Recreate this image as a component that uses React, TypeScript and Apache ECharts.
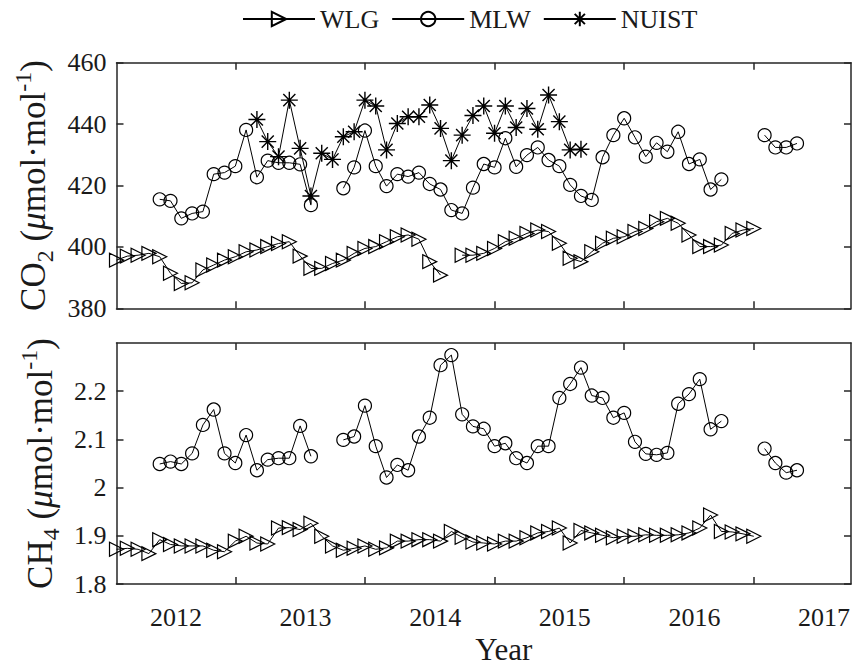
import React, { useEffect, useRef } from "react";
import * as echarts from "echarts";

// Month index 0 = Jan 2012 (x axis is months)
const X_MIN = 0;
const X_MAX = 68;
const TICK_MONTHS = [11, 23, 35, 47, 59];
const LABEL_MONTHS = [5.5, 17.5, 29.5, 41.5, 53.5, 65.5];
const YEAR_LABELS = ["2012", "2013", "2014", "2015", "2016", "2017"];

const CO2_TICKS = [380, 400, 420, 440, 460];
const CH4_TICKS = [1.8, 1.9, 2.0, 2.1, 2.2];

const N = null;

// CO2 (µmol/mol), monthly, index = month since Jan 2012
const WLG_CO2 = [
  395.7, 397.0, 397.3, 397.9, 396.8, 391.4, 388.1, 388.3, 392.5, 394.1, 395.7, 396.8,
  398.4, 399.0, 400.1, 401.1, 401.7, 397.0, 393.0, 393.0, 394.6, 395.7, 397.9, 399.5,
  400.1, 401.7, 403.3, 403.9, 402.5, 395.2, 390.8, N, 397.3, 397.3, 397.9, 399.5,
  401.7, 402.8, 404.4, 405.5, 405.0, 401.2, 396.3, 395.2, 398.4, 401.2, 402.8, 403.3,
  405.0, 406.0, 408.2, 409.3, 407.7, 403.9, 400.1, 400.1, 400.6, 404.4, 405.5, 406.0,
];
const MLW_CO2 = [
  N, N, N, N, 415.5, 415.0, 409.3, 410.9, 411.5, 423.7, 424.2, 426.3,
  438.1, 422.7, 428.1, 427.4, 427.4, 426.9, 413.6, N, N, 419.1, 425.9, 437.9,
  426.3, 419.8, 423.7, 422.9, 424.2, 420.5, 418.7, 412.0, 410.9, 419.3, 427.0, 425.9,
  435.4, 426.1, 429.9, 432.4, 428.3, 426.3, 420.2, 416.6, 415.3, 429.2, 436.4, 441.9,
  435.7, 429.4, 433.9, 431.0, 437.5, 427.0, 428.5, 418.7, 422.0, N, N, N,
  436.4, 432.4, 432.4, 433.7,
];
const NUIST_CO2 = [
  N, N, N, N, N, N, N, N, N, N, N, N,
  N, 441.5, 434.3, 429.4, 447.8, 432.1, 416.6, 430.5, 428.5, 435.9, 437.5, 447.8,
  445.9, 431.6, 440.2, 442.4, 442.4, 446.2, 438.6, 428.1, 436.4, 442.8, 445.9, 437.0,
  445.9, 438.9, 445.1, 438.3, 449.5, 440.8, 431.6, 431.8,
];

// CH4 (µmol/mol)
const WLG_CH4 = [
  1.872, 1.874, 1.872, 1.863, 1.892, 1.882, 1.879, 1.879, 1.879, 1.870, 1.867, 1.889,
  1.899, 1.885, 1.883, 1.916, 1.917, 1.913, 1.926, 1.899, 1.879, 1.870, 1.874, 1.879,
  1.872, 1.875, 1.889, 1.889, 1.892, 1.892, 1.889, 1.909, 1.897, 1.887, 1.885, 1.883,
  1.889, 1.889, 1.896, 1.906, 1.909, 1.916, 1.885, 1.911, 1.906, 1.901, 1.896, 1.899,
  1.899, 1.902, 1.901, 1.901, 1.902, 1.906, 1.916, 1.943, 1.909, 1.908, 1.904, 1.899,
];
const MLW_CH4 = [
  N, N, N, N, 2.049, 2.054, 2.049, 2.071, 2.130, 2.162, 2.071, 2.051,
  2.109, 2.036, 2.058, 2.061, 2.061, 2.128, 2.065, N, N, 2.099, 2.106, 2.170,
  2.086, 2.021, 2.047, 2.036, 2.106, 2.145, 2.254, 2.275, 2.152, 2.127, 2.122, 2.086,
  2.092, 2.061, 2.051, 2.086, 2.086, 2.186, 2.215, 2.249, 2.191, 2.186, 2.145, 2.155,
  2.095, 2.070, 2.068, 2.072, 2.174, 2.194, 2.225, 2.121, 2.138, N, N, N,
  2.081, 2.051, 2.031, 2.036,
];

const FONT = "Liberation Serif";
const AXIS_COLOR = "#262626";
const TEXT_COLOR = "#1a1a1a";
const STAR = "path://M0,-10L0,10M-10,0L10,0M-7.1,-7.1L7.1,7.1M-7.1,7.1L7.1,-7.1";

const pairs = (arr: (number | null)[]) => arr.map((v, i) => [i, v]);

const NAME_FS = 35;
const SUB_FS = 24;
const nameRich = {
  n: { fontSize: NAME_FS, fontFamily: FONT, color: TEXT_COLOR, lineHeight: 46, verticalAlign: "middle" },
  mu: { fontSize: NAME_FS, fontFamily: FONT, fontStyle: "italic", color: TEXT_COLOR, lineHeight: 46, verticalAlign: "middle" },
  sub: { fontSize: SUB_FS, fontFamily: FONT, color: TEXT_COLOR, lineHeight: 24, verticalAlign: "bottom" },
  sup: { fontSize: SUB_FS, fontFamily: FONT, color: TEXT_COLOR, lineHeight: 24, verticalAlign: "top" },
};
const tickRich = { t: { fontSize: 26, fontFamily: FONT, color: TEXT_COLOR } };

export default function App() {
  const ref = useRef<HTMLDivElement>(null);
  useEffect(() => {
    if (!ref.current) return;
    const chart = echarts.init(ref.current, null, { renderer: "svg" });

    const lineStyle = { color: AXIS_COLOR, width: 1.5 };
    const xAxis = (gridIndex: number, position: string, labels: boolean) => ({
      type: "value",
      gridIndex,
      position,
      min: X_MIN,
      max: X_MAX,
      axisLine: { show: true, onZero: false, lineStyle },
      axisTick: { show: true, inside: true, length: 7, customValues: TICK_MONTHS, lineStyle },
      axisLabel: labels
        ? {
            show: true,
            customValues: LABEL_MONTHS,
            margin: 20,
            fontSize: 26,
            fontFamily: FONT,
            color: TEXT_COLOR,
            rich: tickRich,
            formatter: (v: number) => "{t|" + (YEAR_LABELS[LABEL_MONTHS.indexOf(v)] ?? "") + "}",
          }
        : { show: false },
      splitLine: { show: false },
      ...(labels
        ? {
            name: "Year",
            nameLocation: "middle",
            nameGap: 50,
            nameTextStyle: { fontSize: 31, fontFamily: FONT, color: TEXT_COLOR, padding: [0, 0, 0, 40] },
          }
        : {}),
    });
    const yAxis = (
      gridIndex: number,
      position: string,
      min: number,
      max: number,
      ticks: number[],
      name?: string
    ) => ({
      type: "value",
      gridIndex,
      position,
      min,
      max,
      axisLine: { show: true, onZero: false, lineStyle },
      axisTick: { show: true, inside: true, length: 7, customValues: ticks, lineStyle },
      axisLabel: name
        ? {
            show: true,
            customValues: ticks,
            margin: 10,
            fontSize: 26,
            fontFamily: FONT,
            color: TEXT_COLOR,
            rich: tickRich,
            formatter: (v: number) => "{t|" + String(Math.round(v * 10) / 10) + "}",
          }
        : { show: false },
      splitLine: { show: false },
      ...(name
        ? {
            name,
            nameLocation: "middle",
            nameRotate: 90,
            nameGap: 52,
            nameTextStyle: { rich: nameRich },
          }
        : {}),
    });

    const common = { type: "line", showSymbol: true, showAllSymbol: true, connectNulls: false, z: 3 };
    const wlgStyle = {
      symbol: "triangle",
      symbolRotate: -90,
      symbolSize: [14, 14],
      itemStyle: { color: "none", borderColor: "#000", borderWidth: 1.2 },
      lineStyle: { color: "#000", width: 1 },
    };
    const mlwStyle = {
      symbol: "circle",
      symbolSize: 13,
      itemStyle: { color: "none", borderColor: "#000", borderWidth: 1.2 },
      lineStyle: { color: "#000", width: 1 },
    };
    const nuistStyle = {
      symbol: STAR,
      symbolSize: 17,
      itemStyle: { color: "none", borderColor: "#000", borderWidth: 1.4 },
      lineStyle: { color: "#000", width: 1 },
    };

    chart.setOption({
      animation: false,
      backgroundColor: "#fff",
      textStyle: { fontFamily: FONT },
      legend: {
        top: 1,
        left: 237,
        itemWidth: 72,
        itemHeight: 18,
        itemGap: 12,
        formatter: (name: string) => "{t|" + name + "}",
        textStyle: { fontSize: 26, fontFamily: FONT, color: TEXT_COLOR, rich: tickRich },
        data: ["WLG", "MLW", "NUIST"],
      },
      grid: [
        { left: 116.5, top: 62.7, right: 3, height: 245.6 },
        { left: 116.5, top: 343, right: 3, height: 243.7 },
      ],
      xAxis: [xAxis(0, "bottom", false), xAxis(0, "top", false), xAxis(1, "bottom", true), xAxis(1, "top", false)],
      yAxis: [
        yAxis(0, "left", 380, 460, CO2_TICKS, "{n|CO}{sub|2}{n| (}{mu|μ}{n|mol·mol}{sup|-1}{n|)}"),
        yAxis(0, "right", 380, 460, CO2_TICKS),
        yAxis(1, "left", 1.8, 2.3, CH4_TICKS, "{n|CH}{sub|4}{n| (}{mu|μ}{n|mol·mol}{sup|-1}{n|)}"),
        yAxis(1, "right", 1.8, 2.3, CH4_TICKS),
      ],
      series: [
        { ...common, ...wlgStyle, name: "WLG", xAxisIndex: 0, yAxisIndex: 0, data: pairs(WLG_CO2) },
        { ...common, ...mlwStyle, name: "MLW", xAxisIndex: 0, yAxisIndex: 0, data: pairs(MLW_CO2) },
        { ...common, ...nuistStyle, name: "NUIST", xAxisIndex: 0, yAxisIndex: 0, data: pairs(NUIST_CO2) },
        { ...common, ...wlgStyle, name: "WLG", xAxisIndex: 2, yAxisIndex: 2, data: pairs(WLG_CH4) },
        { ...common, ...mlwStyle, name: "MLW", xAxisIndex: 2, yAxisIndex: 2, data: pairs(MLW_CH4) },
      ],
    });
    return () => chart.dispose();
  }, []);
  return <div ref={ref} style={{ position: "fixed", left: 0, top: 0, width: 854, height: 666 }} />;
}
